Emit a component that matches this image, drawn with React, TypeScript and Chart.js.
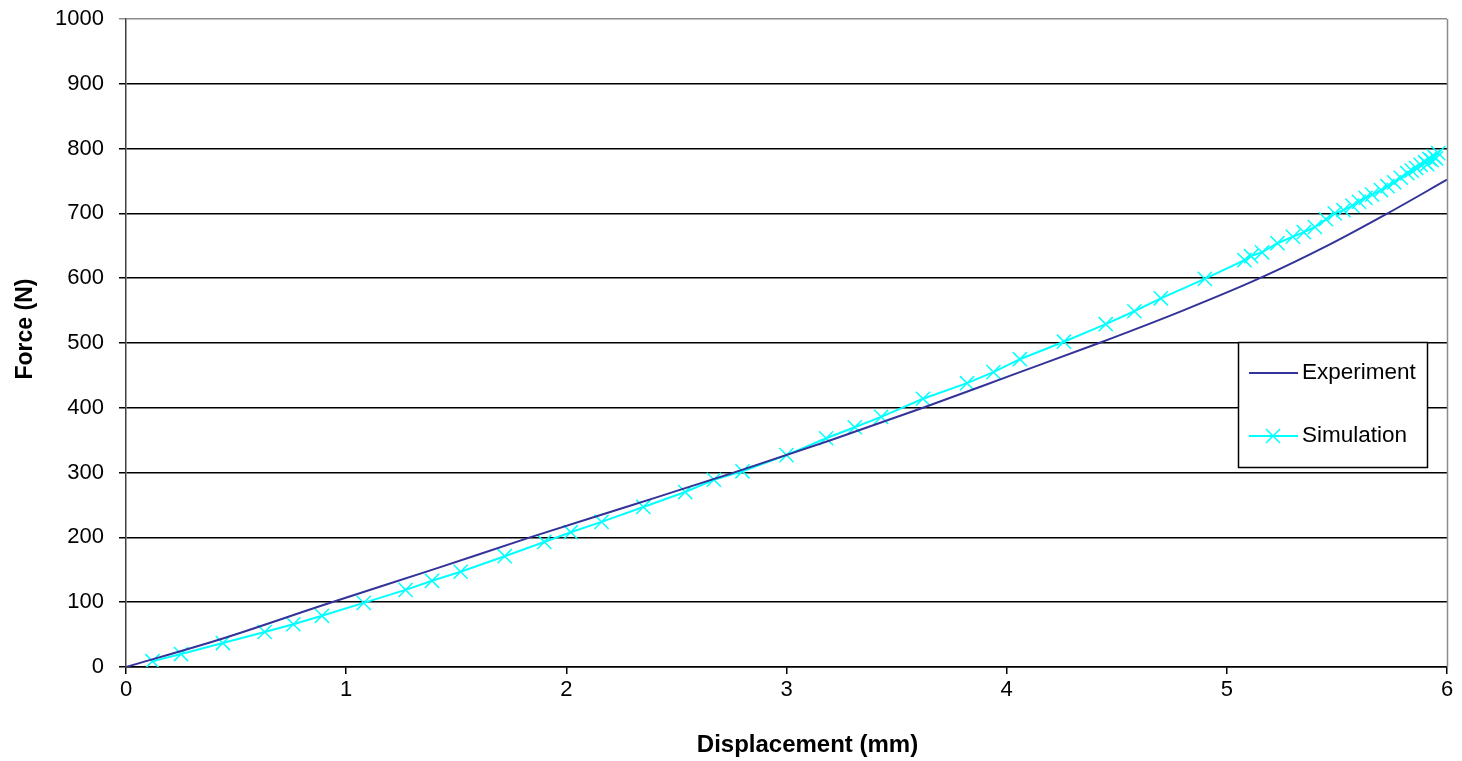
import React, { useEffect, useRef } from 'react';
import { Chart, registerables } from 'chart.js';

Chart.register(...registerables);

const expDisp = [0, 0.44, 0.9, 1.4, 1.835, 2.3, 2.76, 3.2, 3.62, 4.02, 4.42, 4.8, 5.15, 5.45, 5.73, 6.0];
const expForce = [0, 44, 96, 151, 200, 250, 300, 350, 400, 450, 500, 550, 600, 649, 700, 752];

const simDisp = [
  0.12, 0.25, 0.44, 0.63, 0.76, 0.89, 1.08, 1.27, 1.39, 1.52, 1.72, 1.9, 2.02, 2.16, 2.35, 2.54, 2.67, 2.8,
  3.0, 3.18, 3.31, 3.43, 3.62, 3.82, 3.94, 4.06, 4.26, 4.45, 4.58, 4.7, 4.9, 5.08, 5.11, 5.16, 5.23, 5.3,
  5.35, 5.4, 5.45, 5.49, 5.53, 5.57, 5.6, 5.63, 5.66, 5.7, 5.73, 5.76, 5.79, 5.82, 5.84, 5.86, 5.88, 5.9,
  5.92, 5.94, 5.96, 5.93, 5.91, 5.95,
];
const simForce = [
  9, 20, 37, 54, 66, 79, 99, 119, 133, 147, 171, 193, 208, 224, 247, 270, 289, 302,
  327, 353, 370, 386, 414, 438, 455, 475, 502, 529, 549, 569, 599, 628, 634, 640, 654, 664,
  671, 679, 691, 700, 705, 712, 718, 724, 729, 736, 742, 748, 755, 762, 766, 770, 775, 779,
  784, 788, 793, 782, 776, 785,
];

const xTicks = [0, 1, 2, 3, 4, 5, 6];
const yTicks = [0, 100, 200, 300, 400, 500, 600, 700, 800, 900, 1000];

const seriesNames = ['Experiment', 'Simulation'];
const seriesColors = ['#333399', '#00FFFF'];
const xTitle = 'Displacement (mm)';
const yTitle = 'Force (N)';

const FONT = "'Liberation Sans', Arial, sans-serif";

const decorPlugin = {
  id: 'decor',
  afterDraw(chart: any) {
    const { ctx, chartArea } = chart;
    ctx.save();
    // right border of plot area
    ctx.strokeStyle = '#8c8c8c';
    ctx.lineWidth = 1.5;
    ctx.beginPath();
    ctx.moveTo(chartArea.right + 0.5, chartArea.top);
    ctx.lineTo(chartArea.right + 0.5, chartArea.bottom);
    ctx.stroke();

    // axis titles
    ctx.fillStyle = '#000';
    ctx.textAlign = 'center';
    ctx.textBaseline = 'middle';
    ctx.font = `bold 24px ${FONT}`;
    ctx.fillText(xTitle, (chartArea.left + chartArea.right) / 2 + 21, chartArea.bottom + 78);
    ctx.save();
    ctx.translate(26, (chartArea.top + chartArea.bottom) / 2 - 14);
    ctx.rotate(-Math.PI / 2);
    ctx.font = `bold 23px ${FONT}`;
    ctx.fillText(yTitle, 0, 0);
    ctx.restore();

    // legend box
    const bx = chartArea.right - 209;
    const by = chartArea.top + 323;
    const bw = 189;
    const bh = 125;
    ctx.fillStyle = '#fff';
    ctx.fillRect(bx, by, bw, bh);
    ctx.strokeStyle = '#000';
    ctx.lineWidth = 1.5;
    ctx.strokeRect(bx + 0.5, by + 0.5, bw, bh);

    const rows = [by + 31, by + 94];
    chart.data.datasets.forEach((ds: any, i: number) => {
      const y = rows[i];
      ctx.strokeStyle = ds.borderColor;
      ctx.lineWidth = 2;
      ctx.beginPath();
      ctx.moveTo(bx + 11, y);
      ctx.lineTo(bx + 60, y);
      ctx.stroke();
      if (ds.pointRadius > 0) {
        const cx = bx + 35;
        const r = 7;
        ctx.lineWidth = 1.5;
        ctx.beginPath();
        ctx.moveTo(cx - r, y - r);
        ctx.lineTo(cx + r, y + r);
        ctx.moveTo(cx - r, y + r);
        ctx.lineTo(cx + r, y - r);
        ctx.stroke();
      }
      ctx.fillStyle = '#000';
      ctx.font = `22.5px ${FONT}`;
      ctx.textBaseline = 'middle';
      ctx.textAlign = 'left';
      ctx.fillText(ds.label, bx + 64, y);
    });
    ctx.restore();
  },
};

export default function App() {
  const ref = useRef<HTMLCanvasElement | null>(null);

  useEffect(() => {
    document.body.style.margin = '0';
    const canvas = ref.current;
    if (!canvas) return;
    const chart = new Chart(canvas, {
      type: 'scatter',
      data: {
        datasets: [
          {
            label: seriesNames[0],
            data: expDisp.map((x, i) => ({ x, y: expForce[i] })),
            showLine: true,
            borderColor: seriesColors[0],
            backgroundColor: seriesColors[0],
            borderWidth: 2,
            pointRadius: 0,
            cubicInterpolationMode: 'monotone',
          },
          {
            label: seriesNames[1],
            data: simDisp.map((x, i) => ({ x, y: simForce[i] })),
            showLine: true,
            borderColor: seriesColors[1],
            backgroundColor: seriesColors[1],
            borderWidth: 2,
            pointStyle: 'crossRot',
            pointRadius: 10,
            pointBorderWidth: 1.5,
            pointBorderColor: seriesColors[1],
            tension: 0,
          },
        ],
      },
      options: {
        responsive: false,
        animation: false,
        layout: { autoPadding: false, padding: { left: 0, right: 15, top: 19, bottom: 0 } },
        plugins: {
          legend: { display: false },
          tooltip: { enabled: false },
        },
        scales: {
          x: {
            type: 'linear',
            min: xTicks[0],
            max: xTicks[xTicks.length - 1],
            afterBuildTicks: (scale: any) => {
              scale.ticks = xTicks.map((v) => ({ value: v }));
            },
            afterFit: (scale: any) => {
              scale.height = 94;
              scale.paddingLeft = 0;
              scale.paddingRight = 0;
            },
            ticks: {
              color: '#000',
              font: { family: FONT, size: 22 },
              padding: 3,
              maxRotation: 0,
              callback: (v: any) => String(v),
            },
            grid: {
              drawOnChartArea: false,
              drawTicks: true,
              tickLength: 7,
              color: '#000',
              lineWidth: 1.5,
            },
            border: { display: true, color: '#000', width: 1.5 },
            title: { display: false },
          },
          y: {
            type: 'linear',
            min: yTicks[0],
            max: yTicks[yTicks.length - 1],
            afterBuildTicks: (scale: any) => {
              scale.ticks = yTicks.map((v) => ({ value: v }));
            },
            afterFit: (scale: any) => {
              scale.width = 126;
              scale.paddingTop = 0;
              scale.paddingBottom = 0;
            },
            ticks: {
              color: '#000',
              font: { family: FONT, size: 22 },
              padding: 15,
              callback: (v: any) => String(v),
            },
            grid: {
              drawOnChartArea: true,
              drawTicks: true,
              tickLength: 7,
              color: (c: any) => (c.tick && c.tick.value === 1000 ? '#8c8c8c' : '#000'),
              lineWidth: 1.5,
            },
            border: { display: true, color: '#404040', width: 1.5 },
            title: { display: false },
          },
        },
      },
      plugins: [decorPlugin],
    } as any);
    return () => chart.destroy();
  }, []);

  return (
    <div style={{ width: 1462, height: 761 }}>
      <canvas ref={ref} width={1462} height={761} />
    </div>
  );
}
